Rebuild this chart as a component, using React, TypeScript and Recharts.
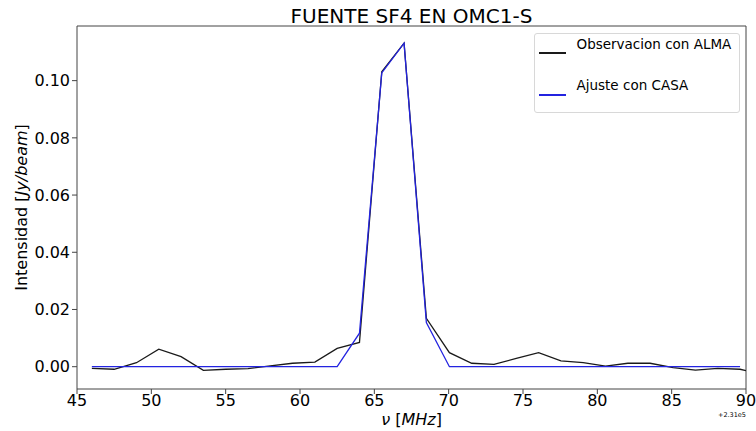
import React from 'react';
import { LineChart, Line, XAxis, YAxis, ReferenceArea, Legend, Customized } from 'recharts';

const obsFreq = [46.0, 47.5, 49.0, 50.5, 52.0, 53.5, 55.0, 56.5, 58.0, 59.5, 61.0, 62.5, 64.0, 65.5, 67.0, 68.5, 70.05, 71.55, 73.05, 74.55, 76.05, 77.55, 79.05, 80.55, 82.05, 83.55, 85.1, 86.6, 88.1, 89.6, 91.1];
const obsIntensity = [-0.0006, -0.0009, 0.0014, 0.0061, 0.0035, -0.0013, -0.0009, -0.0007, 0.0003, 0.0012, 0.0016, 0.0064, 0.0085, 0.1031, 0.1131, 0.0169, 0.0049, 0.0012, 0.0008, 0.0029, 0.0049, 0.002, 0.0014, 0.0002, 0.0012, 0.0012, -0.0003, -0.0012, -0.0006, -0.0009, -0.0026];

const fitFreq = [46.0, 47.5, 49.0, 50.5, 52.0, 53.5, 55.0, 56.5, 58.0, 59.5, 61.0, 62.5, 64.0, 65.5, 67.0, 68.5, 70.05, 71.55, 73.05, 74.55, 76.05, 77.55, 79.05, 80.55, 82.05, 83.55, 85.1, 86.6, 88.1, 89.6];
const fitIntensity = [0, 0, 0, 0, 0, 0, 0, 0, 0, 0, 0, 0, 0.0117, 0.1027, 0.1131, 0.0154, 0, 0, 0, 0, 0, 0, 0, 0, 0, 0, 0, 0, 0, 0];

const xTicks = [45, 50, 55, 60, 65, 70, 75, 80, 85, 90];
const yTicks = [0, 0.02, 0.04, 0.06, 0.08, 0.1];
const xDomain = [45, 90];
const yDomain = [-0.0078, 0.1191];

const seriesNames = ['Observacion con ALMA', 'Ajuste con CASA'];
const seriesColors = ['#1a1a1a', '#2323e0'];

const obsData = obsFreq.map((x, i) => ({ x, y: obsIntensity[i] }));
const fitData = fitFreq.map((x, i) => ({ x, y: fitIntensity[i] }));

const FONT = "'DejaVu Sans', sans-serif";
const AXIS = '#444';

const Texts = () => (
  <g fontFamily={FONT} fill="#000">
    <text x={411.5} y={23} textAnchor="middle" fontSize={20}>FUENTE SF4 EN OMC1-S</text>
    <text x={411.5} y={425} textAnchor="middle" fontSize={16}>
      <tspan fontStyle="italic">ν</tspan>
      <tspan> [</tspan>
      <tspan fontStyle="italic">MHz</tspan>
      <tspan>]</tspan>
    </text>
    <text x={26.5} y={207.5} textAnchor="middle" fontSize={16} transform="rotate(-90, 26.5, 207.5)">
      <tspan>Intensidad [</tspan>
      <tspan fontStyle="italic">Jy/beam</tspan>
      <tspan>]</tspan>
    </text>
    <text x={746} y={417} textAnchor="end" fontSize={6.5}>+2.31e5</text>
  </g>
);

const LegendBox = () => (
  <div
    style={{
      position: 'relative',
      width: 206,
      height: 80,
      border: '1px solid #d8d8d8',
      borderRadius: 3,
      boxSizing: 'border-box',
      background: '#fff',
      fontFamily: FONT,
      fontSize: 13.5,
      color: '#000',
    }}
  >
    {seriesNames.map((name, i) => (
      <React.Fragment key={name}>
        <div
          style={{
            position: 'absolute',
            left: 4,
            top: i === 0 ? 18 : 60.3,
            width: 27,
            height: 1.5,
            background: seriesColors[i],
          }}
        />
        <span
          style={{
            position: 'absolute',
            left: 41.5,
            top: i === 0 ? 1.6 : 42.6,
            lineHeight: '16px',
            whiteSpace: 'nowrap',
          }}
        >
          {name}
        </span>
      </React.Fragment>
    ))}
  </div>
);

export default function App() {
  return (
    <div style={{ position: 'absolute', left: 0, top: 0, width: 756, height: 431, background: '#fff' }}>
      <LineChart
        width={756}
        height={431}
        margin={{ top: 26, right: 10, bottom: 0, left: 0 }}
        style={{ fontFamily: FONT }}
      >
        <XAxis
          type="number"
          dataKey="x"
          domain={xDomain}
          ticks={xTicks}
          allowDataOverflow
          height={42}
          axisLine={false}
          tickLine={{ stroke: AXIS }}
          tickSize={5}
          tickMargin={1}
          tick={{ fill: '#000', fontSize: 16, fontFamily: FONT }}
        />
        <YAxis
          type="number"
          dataKey="y"
          domain={yDomain}
          ticks={yTicks}
          allowDataOverflow
          width={77}
          axisLine={false}
          tickLine={{ stroke: AXIS }}
          tickSize={5}
          tickMargin={2}
          tickFormatter={(v) => Number(v).toFixed(2)}
          tick={{ fill: '#000', fontSize: 16, fontFamily: FONT }}
        />
        <ReferenceArea x1={xDomain[0]} x2={xDomain[1]} y1={yDomain[0]} y2={yDomain[1]} fill="none" fillOpacity={0} stroke={AXIS} strokeWidth={1} />
        <Line
          data={obsData}
          dataKey="y"
          type="linear"
          stroke={seriesColors[0]}
          strokeWidth={1.3}
          dot={false}
          activeDot={false}
          isAnimationActive={false}
          name={seriesNames[0]}
        />
        <Line
          data={fitData}
          dataKey="y"
          type="linear"
          stroke={seriesColors[1]}
          strokeWidth={1.3}
          dot={false}
          activeDot={false}
          isAnimationActive={false}
          name={seriesNames[1]}
        />
        <Legend
          layout="vertical"
          align="center"
          verticalAlign="middle"
          content={() => <LegendBox />}
          wrapperStyle={{ left: 534, top: 33, width: 206, height: 80, right: 'auto', bottom: 'auto' }}
        />
        <Customized component={<Texts />} />
      </LineChart>
    </div>
  );
}
